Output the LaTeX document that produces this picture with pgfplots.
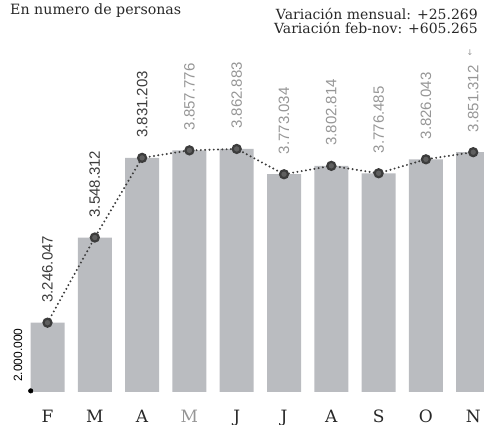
\documentclass[border=0pt]{standalone}
\usepackage{pgfplots}
\pgfplotsset{compat=1.18}
\usepackage{fontspec}
\setmainfont{DejaVu Serif}
\newfontfamily\numfont{Liberation Sans}
\newfontfamily\symfont{DejaVu Sans}
\definecolor{barcol}{RGB}{186,188,192}
\definecolor{labgray}{RGB}{150,150,150}
\definecolor{dotcol}{RGB}{60,60,60}
\definecolor{markcol}{RGB}{95,95,95}
\definecolor{txtcol}{RGB}{40,40,40}
\begin{document}
\begin{tikzpicture}
\useasboundingbox (0,0) rectangle (484pt,425pt);
\begin{axis}[
  at={(30pt,33pt)}, anchor=south west,
  scale only axis, width=454pt, height=341pt,
  xmin=-0.37, xmax=9.228,
  ymin=3000000, ymax=4210550,
  axis line style={draw=none},
  tick style={draw=none},
  ytick=\empty,
  xtick={0,1,2,3,4,5,6,7,8,9},
  xticklabels={F,M,A,\textcolor{labgray}{M},J,J,A,S,O,N},
  xticklabel style={anchor=base, yshift=-30pt, font=\fontsize{17}{17}\selectfont, text=txtcol},
]
\addplot[ybar, bar width=34pt, fill=barcol, draw=none] coordinates {
 (0,3246047) (1,3548312) (2,3831203) (3,3857776) (4,3862883)
 (5,3773034) (6,3802814) (7,3776485) (8,3826043) (9,3851312)};
\addplot[color=dotcol, line width=2.2pt, dash pattern=on 0pt off 4.3pt, line cap=round,
  mark=*, mark size=4pt, mark options={solid, fill=markcol, draw=none},
  point meta=explicit symbolic,
  nodes near coords,
  nodes near coords style={yshift=19pt, rotate=90, anchor=west, inner sep=0pt,
     font=\numfont\fontsize{15}{15}\selectfont},
] coordinates {
 (0,3246047)[3.246.047] (1,3548312)[3.548.312] (2,3831203)[3.831.203]
 (3,3857776)[\textcolor{labgray}{3.857.776}] (4,3862883)[\textcolor{labgray}{3.862.883}]
 (5,3773034)[\textcolor{labgray}{3.773.034}] (6,3802814)[\textcolor{labgray}{3.802.814}]
 (7,3776485)[\textcolor{labgray}{3.776.485}] (8,3826043)[\textcolor{labgray}{3.826.043}]
 (9,3851312)[\textcolor{labgray}{3.851.312}]};
\addplot[only marks, mark=*, mark size=2.3pt, mark options={fill=black, draw=black}, black] coordinates {(-0.355,3004000)};
\end{axis}
\node[anchor=base west, inner sep=0pt, text=txtcol, font=\fontsize{14.2}{15}\selectfont] at (10pt,410pt) {En numero de personas};
\node[anchor=base east, inner sep=0pt, text=txtcol, font=\fontsize{14}{15}\selectfont] at (478pt,405pt) {Variación mensual: +25.269};
\node[anchor=base east, inner sep=0pt, text=txtcol, font=\fontsize{14}{15}\selectfont] at (478pt,391pt) {Variación feb-nov: +605.265};
\node[anchor=base west, inner sep=0pt, rotate=90, font=\numfont\fontsize{12}{12}\selectfont] at (22pt,43pt) {2.000.000};
\node[inner sep=0pt, text=labgray, font=\symfont\fontsize{8}{8}\selectfont] at (470pt,372pt) {↓};
\end{tikzpicture}
\end{document}
